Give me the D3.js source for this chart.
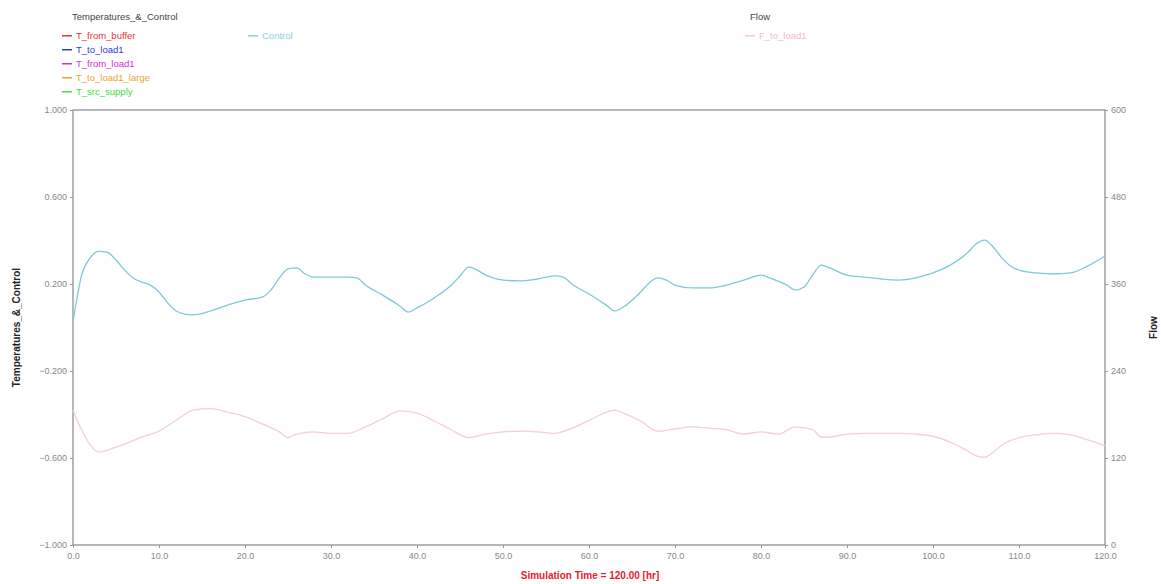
<!DOCTYPE html>
<html><head><meta charset="utf-8">
<script src="https://cdn.jsdelivr.net/npm/d3@7"></script>
<style>body{margin:0;background:#fff}svg{display:block;font-family:"Liberation Sans",Arial,sans-serif}</style>
</head><body><svg id="c" width="1161" height="584"></svg>
<script>
const time = [0,1,2,3,4,5,6,7,8,9,10,11,12,13,14,16,18,20,22,23,24,25,26,27,28,30,32,33,34,36,38,39,40,42,44,45,46,47,48,50,52,54,56,57,58,60,62,63,64,66,67,68,69,70,72,74,76,78,80,81,83,84,85,86,87,88,90,92,94,96,98,100,102,104,105,106,107,108,109,110,112,114,116,118,120];
const control = [0.025,0.24,0.32,0.35,0.345,0.31,0.264,0.228,0.209,0.195,0.163,0.113,0.076,0.062,0.058,0.076,0.103,0.126,0.14,0.172,0.228,0.269,0.274,0.246,0.232,0.232,0.232,0.228,0.195,0.149,0.099,0.071,0.09,0.136,0.195,0.237,0.278,0.264,0.241,0.218,0.214,0.223,0.237,0.232,0.2,0.154,0.103,0.076,0.094,0.163,0.205,0.228,0.218,0.195,0.182,0.182,0.195,0.218,0.241,0.228,0.195,0.172,0.186,0.241,0.287,0.274,0.241,0.232,0.223,0.218,0.228,0.251,0.287,0.343,0.384,0.402,0.37,0.32,0.283,0.264,0.251,0.246,0.251,0.283,0.329];
const flowTime = [0,1,2,3,4,6,8,10,12,14,16,18,20,22,24,25,26,28,30,32,34,36,38,40,42,44,46,48,50,52,54,56,58,60,62,63,64,66,68,70,72,74,76,78,80,82,84,86,87,88,90,92,94,96,98,100,102,104,105,106,107,108,110,112,114,116,118,120];
const flow = [186,159,138,128,131,139,149,157,172,186,188,183,177,167,156,148,153,156,154,154,163,174,185,182,171,159,148,153,156,157,156,154,161,172,183,186,182,171,157,160,163,161,159,153,156,153,163,159,149,149,153,154,154,154,153,150,142,130,123,121,128,138,148,152,154,152,145,137];
const leftTicks = [1.0,0.6,0.2,-0.2,-0.6,-1.0];
const rightTicks = [600,480,360,240,120,0];
const xTicks = [0,10,20,30,40,50,60,70,80,90,100,110,120];
const tempLegend = ["T_from_buffer","T_to_load1","T_from_load1","T_to_load1_large","T_src_supply"];
const tempColors = ["#e8303a","#2a3ad8","#d030d8","#f0a030","#40e040"];
const controlLegend = ["Control"];
const flowLegend = ["F_to_load1"];

const svg = d3.select("#c");
const L=73,R=1105,T=110,B=545;
const x = d3.scaleLinear().domain([0,120]).range([L,R]);
const yL = d3.scaleLinear().domain([-1,1]).range([B,T]);
const yR = d3.scaleLinear().domain([0,600]).range([B,T]);

svg.append("rect").attr("x",L).attr("y",T).attr("width",R-L).attr("height",B-T)
  .attr("fill","none").attr("stroke","#888").attr("stroke-width",1.2);

const fmt3 = d3.format(".3f");
const gl = svg.append("g").attr("transform",`translate(${L},0)`)
  .call(d3.axisLeft(yL).tickValues(leftTicks).tickFormat(fmt3).tickSize(3));
const gr = svg.append("g").attr("transform",`translate(${R},0)`)
  .call(d3.axisRight(yR).tickValues(rightTicks).tickFormat(d3.format("d")).tickSize(3));
const gb = svg.append("g").attr("transform",`translate(0,${B})`)
  .call(d3.axisBottom(x).tickValues(xTicks).tickFormat(d3.format(".1f")).tickSize(3));
[gl,gr,gb].forEach(g=>{
  g.select(".domain").remove();
  g.selectAll(".tick line").attr("stroke","#999");
  g.selectAll(".tick text").attr("fill","#888").attr("font-size",9).attr("font-family","Liberation Sans, Arial, sans-serif");
});
gb.selectAll(".tick text").attr("dy","0.9em");

const line = d3.line().curve(d3.curveMonotoneX);
svg.append("path").attr("d", line(flowTime.map((t,i)=>[x(t),yR(flow[i])])))
  .attr("fill","none").attr("stroke","#f5cddd").attr("stroke-width",1.3);
svg.append("path").attr("d", line(time.map((t,i)=>[x(t),yL(control[i])])))
  .attr("fill","none").attr("stroke","#7ccad6").attr("stroke-width",1.3);

// legends
function dash(x1, yy, color){
  svg.append("rect").attr("x",x1).attr("y",Math.round(yy)).attr("width",10).attr("height",1.5).attr("fill",color);
}
svg.append("text").attr("x",72).attr("y",20).attr("font-size",9.5).attr("fill","#444").text("Temperatures_&_Control");
tempLegend.forEach((n,i)=>{
  const yy = 38.5 + i*14.2;
  dash(62, yy-4, tempColors[i]);
  svg.append("text").attr("x",76).attr("y",yy).attr("font-size",9.5).attr("fill",tempColors[i]).text(n);
});
controlLegend.forEach((n,i)=>{
  dash(248, 34.5, "#8ad0e0");
  svg.append("text").attr("x",262).attr("y",38.5).attr("font-size",9.5).attr("fill","#8ad0e0").text(n);
});
svg.append("text").attr("x",750).attr("y",20).attr("font-size",9.5).attr("fill","#444").text("Flow");
flowLegend.forEach((n,i)=>{
  dash(745, 34.5, "#f4c8da");
  svg.append("text").attr("x",759).attr("y",38.5).attr("font-size",9.5).attr("fill","#f0b8d4").text(n);
});

svg.append("text").attr("transform",`translate(20,${(T+B)/2}) rotate(-90)`).attr("text-anchor","middle")
  .attr("font-size",10).attr("font-weight","bold").attr("fill","#222").text("Temperatures_&_Control");
svg.append("text").attr("transform",`translate(1157,${(T+B)/2}) rotate(-90)`).attr("text-anchor","middle")
  .attr("font-size",10).attr("font-weight","bold").attr("fill","#222").text("Flow");
svg.append("text").attr("x",590).attr("y",579).attr("text-anchor","middle")
  .attr("font-size",10).attr("font-weight","bold").attr("fill","#e8202a").text("Simulation Time = 120.00 [hr]");
</script></body></html>
